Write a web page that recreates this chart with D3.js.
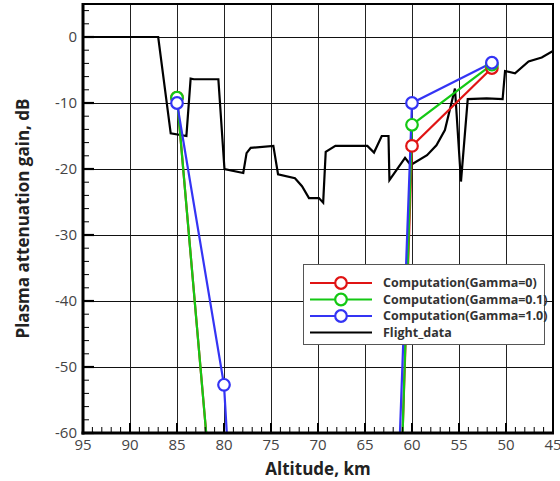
<!DOCTYPE html>
<html>
<head>
<meta charset="utf-8">
<script src="https://cdn.jsdelivr.net/npm/d3@7"></script>
<style>
  html, body { margin: 0; padding: 0; background: #fff; }
  svg { display: block; }
</style>
</head>
<body>
<svg id="chart" width="560" height="481"></svg>
<script>
// Flight measurement: altitude (km) and attenuation gain (dB)
const flightAlt  = [95, 87.0, 85.67, 84.0, 83.55, 83.2, 80.6, 79.95, 77.95, 77.6, 77.16, 74.75, 74.25, 72.45, 71.7, 70.96, 69.9, 69.45, 69.18, 68.15, 64.75, 64.04, 63.22, 62.5, 62.4, 60.74, 60.14, 58.4, 57.4, 56.5, 55.43, 54.79, 54.07, 52.06, 50.36, 50.1, 49.04, 47.6, 46.2, 45];
const flightGain = [0, 0, -14.6, -15.0, -6.3, -6.4, -6.4, -20.0, -20.6, -17.6, -16.8, -16.5, -20.8, -21.4, -22.6, -24.4, -24.4, -25.1, -17.4, -16.5, -16.5, -17.5, -15.0, -15.0, -21.7, -18.3, -19.4, -17.9, -16.4, -14.1, -7.8, -21.9, -9.4, -9.3, -9.4, -5.15, -5.5, -3.7, -3.1, -2.1];

// Computed attenuation for three collision-frequency settings
const compAlt    = [85, 80, 75, 65, 60, 51.5];
const gamma0     = [-9.2, -91, -160, -234, -16.5, -4.7];
const gamma01    = [-9.2, -91, -160, -247, -13.3, -4.2];
const gamma10    = [-10.0, -52.7, -175, -205, -10.0, -3.9];

const seriesNames  = ["Computation(Gamma=0)", "Computation(Gamma=0.1)", "Computation(Gamma=1.0)", "Flight_data"];
const seriesColors = ["#e01414", "#14c814", "#3434f4", "#000000"];

const xTicks = [95, 90, 85, 80, 75, 70, 65, 60, 55, 50, 45];
const yTicks = [0, -10, -20, -30, -40, -50, -60];

const svg = d3.select("#chart");
const L = 83, R = 553, T = 4, B = 433;

const x = d3.scaleLinear().domain([95, 45]).range([L, R]);
const y = d3.scaleLinear().domain([-60, 5]).range([B, T]);

const tickFont = "'Open Sans', sans-serif";

// grid lines
const grid = svg.append("g");
grid.selectAll("line.v").data(xTicks.slice(1, -1)).join("line")
  .attr("x1", d => Math.round(x(d)) + 0.5).attr("x2", d => Math.round(x(d)) + 0.5)
  .attr("y1", T).attr("y2", B)
  .attr("stroke", "#222").attr("stroke-width", 1);
grid.selectAll("line.h").data(yTicks.slice(0, -1)).join("line")
  .attr("x1", L).attr("x2", R)
  .attr("y1", d => Math.round(y(d)) + 0.5).attr("y2", d => Math.round(y(d)) + 0.5)
  .attr("stroke", "#111").attr("stroke-width", 1);

// clip region for data
svg.append("clipPath").attr("id", "plotClip")
  .append("rect").attr("x", L).attr("y", T).attr("width", R - L).attr("height", B - T);

const plot = svg.append("g").attr("clip-path", "url(#plotClip)");

const line = d3.line().x(d => x(d[0])).y(d => y(d[1]));

// flight data
plot.append("path")
  .datum(flightAlt.map((a, i) => [a, flightGain[i]]))
  .attr("d", line)
  .attr("fill", "none").attr("stroke", seriesColors[3])
  .attr("stroke-width", 2.2).attr("stroke-linejoin", "miter");

// computed series
[gamma0, gamma01, gamma10].forEach((vals, k) => {
  const pts = compAlt.map((a, i) => [a, vals[i]]);
  plot.append("path").datum(pts).attr("d", line)
    .attr("fill", "none").attr("stroke", seriesColors[k]).attr("stroke-width", 2.2);
});
[gamma0, gamma01, gamma10].forEach((vals, k) => {
  const pts = compAlt.map((a, i) => [a, vals[i]]);
  plot.selectAll(null).data(pts).join("circle")
    .attr("cx", d => x(d[0])).attr("cy", d => y(d[1])).attr("r", 5.8)
    .attr("fill", "#fff").attr("stroke", seriesColors[k]).attr("stroke-width", 2.2);
});

// axes
const xAxisG = svg.append("g");
const yAxisG = svg.append("g");

// minor ticks
const xMinor = d3.range(94, 45, -1).filter(v => v % 5 !== 0);
xAxisG.selectAll("line.mn").data(xMinor).join("line")
  .attr("x1", d => x(d)).attr("x2", d => x(d)).attr("y1", B).attr("y2", B - 6)
  .attr("stroke", "#000").attr("stroke-width", 1);
xAxisG.selectAll("line.mj").data(xTicks).join("line")
  .attr("x1", d => x(d)).attr("x2", d => x(d)).attr("y1", B).attr("y2", B - 10)
  .attr("stroke", "#000").attr("stroke-width", 2);

const yMinor = d3.range(-58, 5, 2).filter(v => v % 10 !== 0);
yAxisG.selectAll("line.mn").data(yMinor).join("line")
  .attr("x1", L).attr("x2", L + 6).attr("y1", d => y(d)).attr("y2", d => y(d))
  .attr("stroke", "#000").attr("stroke-width", 1);
yAxisG.selectAll("line.mj").data(yTicks).join("line")
  .attr("x1", L).attr("x2", L + 11).attr("y1", d => y(d)).attr("y2", d => y(d))
  .attr("stroke", "#000").attr("stroke-width", 2.2);

// frame
svg.append("rect").attr("x", L).attr("y", T).attr("width", R - L).attr("height", B - T)
  .attr("fill", "none").attr("stroke", "#000").attr("stroke-width", 2);
svg.append("line").attr("x1", L).attr("x2", L).attr("y1", T - 1).attr("y2", B + 1.5)
  .attr("stroke", "#000").attr("stroke-width", 3);
svg.append("line").attr("x1", L - 1.5).attr("x2", R + 1).attr("y1", B).attr("y2", B)
  .attr("stroke", "#000").attr("stroke-width", 3);

// tick labels
svg.append("g").selectAll("text").data(xTicks).join("text")
  .attr("x", d => x(d)).attr("y", 450)
  .attr("text-anchor", "middle")
  .attr("font-family", tickFont).attr("font-size", 15).attr("fill", "#444")
  .text(d => d);
svg.append("g").selectAll("text").data(yTicks).join("text")
  .attr("x", 77).attr("y", d => y(d)).attr("dy", "0.35em")
  .attr("text-anchor", "end")
  .attr("font-family", tickFont).attr("font-size", 15).attr("fill", "#444")
  .text(d => d);

// axis titles
svg.append("text").attr("x", (L + R) / 2).attr("y", 475)
  .attr("text-anchor", "middle").attr("font-family", tickFont)
  .attr("font-weight", "bold").attr("font-size", 17).attr("fill", "#222")
  .text("Altitude, km");
svg.append("text").attr("transform", `translate(29, ${(T + B) / 2}) rotate(-90)`)
  .attr("text-anchor", "middle").attr("font-family", tickFont)
  .attr("font-weight", "bold").attr("font-size", 17).attr("fill", "#222")
  .text("Plasma attenuation gain, dB");

// legend
const lg = svg.append("g");
lg.append("rect").attr("x", 303.5).attr("y", 264.5).attr("width", 241).attr("height", 80)
  .attr("fill", "#fff").attr("stroke", "#555").attr("stroke-width", 1);
const rowY = [283, 299.5, 316, 332.5];
seriesNames.forEach((name, i) => {
  lg.append("line").attr("x1", 310).attr("x2", 372).attr("y1", rowY[i]).attr("y2", rowY[i])
    .attr("stroke", seriesColors[i]).attr("stroke-width", 2.2);
  if (i < 3) {
    lg.append("circle").attr("cx", 341).attr("cy", rowY[i]).attr("r", 5.8)
      .attr("fill", "#fff").attr("stroke", seriesColors[i]).attr("stroke-width", 2.2);
  }
  lg.append("text").attr("x", 383).attr("y", rowY[i]).attr("dy", "0.35em")
    .attr("font-family", tickFont).attr("font-weight", "bold").attr("font-size", 12.5)
    .attr("fill", "#333").text(name);
});
</script>
</body>
</html>
